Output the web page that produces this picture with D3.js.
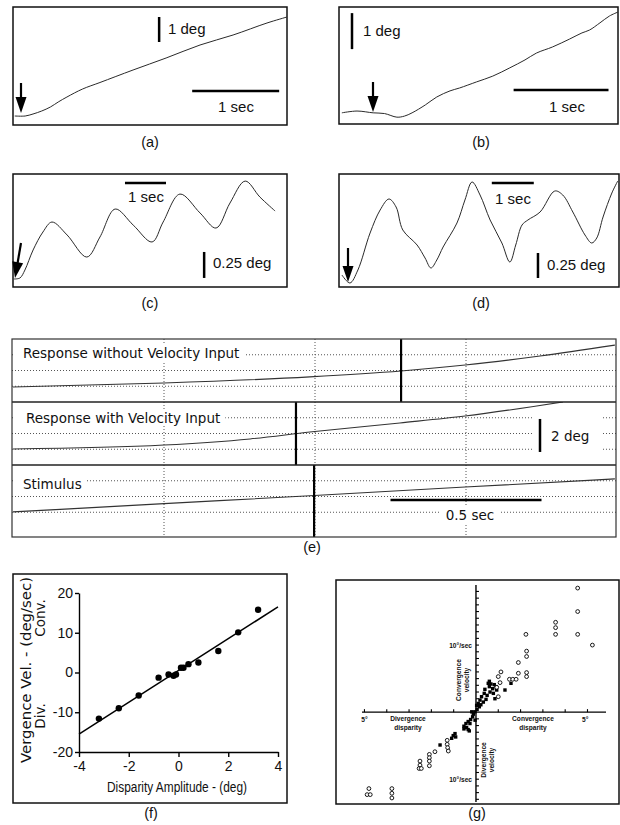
<!DOCTYPE html>
<html><head><meta charset="utf-8">
<script src="https://cdn.jsdelivr.net/npm/d3@7/dist/d3.min.js"></script>
<style>html,body{margin:0;padding:0;background:#fff;}svg{display:block;}</style>
</head><body>
<script>
// ================= DATA =================
// (a) eye position trace: time (s), position (deg)
const traceA_t   = [0.02,0.14,0.23,0.33,0.43,0.52,0.62,0.80,1.00,1.38,1.76,2.15,2.53,2.92,3.15];
const traceA_deg = [0.36,0.36,0.44,0.56,0.72,0.92,1.12,1.44,1.70,2.20,2.68,3.20,3.60,4.08,4.32];
// (b)
const traceB_t   = [0.03,0.19,0.36,0.48,0.61,0.69,0.77,0.91,1.03,1.17,1.27,1.45,1.62,1.80,1.96,2.08,2.25,2.43,2.56,2.64,2.75,2.85,2.94];
const traceB_deg = [0.31,0.36,0.31,0.29,0.19,0.22,0.31,0.53,0.75,0.92,1.00,1.17,1.33,1.56,1.78,1.97,2.14,2.36,2.53,2.61,2.81,3.00,3.11];
// (c)
const traceC_t   = [0.02,0.17,0.29,0.49,0.73,0.95,1.32,1.80,2.12,2.49,2.93,3.39,3.66,4.07,4.56,4.95,5.29,5.66,6.02,6.39];
const traceC_deg = [0.077,0.087,0.163,0.356,0.529,0.625,0.50,0.288,0.481,0.75,0.596,0.433,0.625,0.894,0.712,0.567,0.808,1.019,0.865,0.731];
// (d)
const traceD_t   = [0.07,0.26,0.45,0.74,0.98,1.19,1.36,1.52,1.86,2.05,2.19,2.33,2.48,2.81,3.00,3.17,3.36,3.60,3.88,4.07,4.21,4.36,4.50,4.79,5.14,5.33,5.57,5.86,6.02,6.14,6.29,6.50,6.64];
const traceD_deg = [0.12,0.04,0.17,0.54,0.77,0.88,0.80,0.57,0.42,0.29,0.19,0.27,0.40,0.64,0.87,1.05,0.92,0.67,0.44,0.25,0.42,0.62,0.67,0.75,0.96,0.92,0.75,0.52,0.44,0.49,0.70,0.94,1.06];
// (e) three rows: time (s), position (deg above row floor)
const rowLabels  = ["Response without Velocity Input","Response with Velocity Input","Stimulus"];
const e1_t   = [0,0.50,0.983,1.285,1.497,1.745,1.993];
const e1_deg = [0.91,1.15,1.52,1.88,2.24,2.79,3.45];
const e2_t   = [0,0.50,0.785,0.983,1.281,1.497,1.821];
const e2_deg = [0.97,1.21,1.58,2.00,2.55,2.97,3.82];
const e3_t   = [0,0.50,0.983,1.497,1.993];
const e3_deg = [1.52,2.02,2.50,3.03,3.52];
const eMarkers_t = [1.285,0.937,0.997];
const eGrid_t = [0.5,1.0,1.5];
// (f) disparity amplitude (deg) vs vergence velocity (deg/sec)
const fX = [-3.2,-2.4,-1.6,-0.8,-0.4,-0.2,-0.1,0.1,0.2,0.4,0.8,1.6,2.4,3.2];
const fY = [-11.6,-9.0,-5.8,-1.3,-0.5,-0.8,-0.5,1.2,1.2,2.1,2.5,5.4,10.1,15.8];
const fFitX = [-4,4];
const fFitY = [-15.5,16.5];
const fXTicks = [-4,-2,0,2,4];
const fYTicks = [-20,-10,0,10,20];
// (g) disparity (deg) vs velocity (deg/sec)
const gOpenX = [4.56,4.56,4.56,5.22,3.57,3.57,3.57,2.24,2.27,2.27,1.9,1.9,2.27,2.27,1.12,1.0,1.5,1.65,1.8,1.08,0.93,1.0,
  -1.29,-1.29,-1.27,-1.24,-1.84,-2.09,-2.09,-2.09,-2.09,-2.51,-2.51,-2.55,-2.45,-4.8,-4.88,-4.74,-3.77,-3.77,-3.77];
const gOpenY = [18.5,15.0,11.6,10.0,13.4,12.6,11.6,11.6,9.1,8.3,7.4,5.8,5.9,5.3,6.0,5.3,4.9,4.9,4.9,4.4,3.7,2.3,
  -4.2,-4.8,-5.3,-5.8,-5.9,-6.3,-6.8,-7.3,-8.0,-7.3,-7.9,-8.4,-8.4,-11.4,-12.3,-12.3,-11.4,-12.1,-12.8];
const gSqX = [0.55,0.67,0.82,0.6,0.75,0.9,0.63,0.37,0.5,0.78,0.93,0.85,0.45,0.25,0.18,0.1,0.03,0.33,0.15,1.57,1.3,0.4,0.22,0.05,0.6,
  -0.19,-0.05,-0.12,-0.15,-0.24,-0.35,-0.45,-0.54,-0.42,-0.54,-0.35,-0.27,-0.04,-0.3,-0.94,-1.02,-0.91,-1.09,-1.61];
const gSqY = [4.3,4.2,4.1,3.8,3.5,3.8,3.0,2.8,2.5,2.8,3.3,2.0,1.9,2.3,1.8,1.3,1.0,1.5,0.8,4.3,3.3,3.4,1.1,0.4,4.6,
  0.05,0.05,-0.3,-0.7,-1.1,-1.4,-1.7,-2.1,-2.3,-2.5,-2.6,-1.7,-1.2,-2.8,-3.2,-3.5,-3.7,-3.9,-4.9];

// ================= DRAWING =================
const svg = d3.select("body").append("svg").attr("width",620).attr("height",825);
const SANS = "'Liberation Sans', Arial, Helvetica, sans-serif";
const VERD = "'DejaVu Sans', Verdana, sans-serif";

function box(x,y,w,h,sw){
  svg.append("rect").attr("x",x).attr("y",y).attr("width",w).attr("height",h)
    .attr("fill","none").attr("stroke","#111").attr("stroke-width",sw||1.5);
}
function txt(x,y,s,size,anchor,family,extra){
  const t = svg.append("text").attr("x",x).attr("y",y).text(s)
    .attr("font-size",size).attr("font-family",family||SANS)
    .attr("text-anchor",anchor||"start").attr("fill","#111");
  if(extra) extra(t);
  return t;
}
function seg(x1,y1,x2,y2,sw,color,dash){
  const l = svg.append("line").attr("x1",x1).attr("y1",y1).attr("x2",x2).attr("y2",y2)
    .attr("stroke",color||"#000").attr("stroke-width",sw||1);
  if(dash) l.attr("stroke-dasharray",dash);
  return l;
}
function arrow(x1,y1,x2,y2){
  const dx=x2-x1, dy=y2-y1, L=Math.hypot(dx,dy), ux=dx/L, uy=dy/L;
  const hl=16, hw=5.5, bx=x2-ux*hl, by=y2-uy*hl;
  seg(x1,y1,bx+ux,by+uy,2.2);
  svg.append("path").attr("d",`M${x2},${y2}L${bx-uy*hw},${by+ux*hw}L${bx+uy*hw},${by-ux*hw}Z`).attr("fill","#000");
}
function trace(xs,ys,tArr,dArr,curve){
  svg.append("path").datum(tArr.map((t,i)=>[t,dArr[i]]))
    .attr("d",d3.line().x(d=>xs(d[0])).y(d=>ys(d[1])).curve(curve||d3.curveCatmullRom))
    .attr("fill","none").attr("stroke","#2a2a2a").attr("stroke-width",1);
}

// ---- (a) ----
{
  const x = d3.scaleLinear().domain([0,3.15]).range([13,287]);
  const y = d3.scaleLinear().domain([0,4.72]).range([125,7]);
  box(13,7,274,118);
  trace(x,y,traceA_t,traceA_deg);
  seg(x(2.06),y(1.36),x(3.06),y(1.36),2.5);
  seg(x(1.68),y(3.32),x(1.68),y(4.32),2.5);
  txt(168,34,"1 deg",15);
  txt(236,112,"1 sec",15,"middle");
  arrow(21,83,21,113);
  txt(150,147,"(a)",14.5,"middle");
}
// ---- (b) ----
{
  const x = d3.scaleLinear().domain([0,2.94]).range([339,618]);
  const y = d3.scaleLinear().domain([0,3.25]).range([124,7]);
  box(339,7,279,117);
  trace(x,y,traceB_t,traceB_deg);
  seg(x(1.84),y(0.944),x(2.84),y(0.944),2.5);
  seg(x(0.137),y(2.08),x(0.137),y(3.08),2.5);
  txt(363,36,"1 deg",15);
  txt(567,112,"1 sec",15,"middle");
  arrow(373,82,373,112);
  txt(481,147,"(b)",14.5,"middle");
}
// ---- (c) ----
{
  const x = d3.scaleLinear().domain([0,6.68]).range([13,287]);
  const y = d3.scaleLinear().domain([0,1.087]).range([287,174]);
  box(13,174,274,113);
  trace(x,y,traceC_t,traceC_deg);
  seg(x(2.73),y(1.0),x(3.73),y(1.0),2.5);
  seg(x(4.66),y(0.087),x(4.66),y(0.337),2.5);
  txt(146,202,"1 sec",15,"middle");
  txt(213,268,"0.25 deg",15);
  arrow(21,243,15,278);
  txt(150,308,"(c)",14.5,"middle");
}
// ---- (d) ----
{
  const x = d3.scaleLinear().domain([0,6.67]).range([339,619]);
  const y = d3.scaleLinear().domain([0,1.13]).range([287,174]);
  box(339,174,280,113);
  trace(x,y,traceD_t,traceD_deg);
  seg(x(3.64),y(1.04),x(4.64),y(1.04),2.5);
  seg(x(4.74),y(0.09),x(4.74),y(0.34),2.5);
  txt(513,204,"1 sec",15,"middle");
  txt(547,270,"0.25 deg",15);
  arrow(348,248,348,282);
  txt(481,308,"(d)",14.5,"middle");
}
// ---- (e) ----
{
  const L=12, R=616, T=339, B=537;
  const x = d3.scaleLinear().domain([0,2]).range([13,617]);
  const rows = [[339,402],[402,465],[465,537]];
  const pxPerDeg = 16.5;
  const data = [[e1_t,e1_deg],[e2_t,e2_deg],[e3_t,e3_deg]];
  const defs = svg.append("defs");
  defs.append("clipPath").attr("id","eclip").append("rect").attr("x",L).attr("y",T).attr("width",R-L).attr("height",B-T);
  // dotted horizontals
  rows.forEach(([top,bot],i)=>{
    const n = i<2 ? [1,2,3] : [1,2,3];
    n.forEach(k=>seg(L,top+15.75*k,R,top+15.75*k,1,"#555","1,2"));
  });
  // dotted verticals
  eGrid_t.forEach(t=>seg(x(t),T,x(t),B,1,"#555","1,2"));
  // traces
  rows.forEach(([top,bot],i)=>{
    const y = d3.scaleLinear().domain([0,(bot-top)/pxPerDeg]).range([bot,top]);
    const cid = "erow"+i;
    defs.append("clipPath").attr("id",cid).append("rect").attr("x",L).attr("y",top).attr("width",R-L).attr("height",bot-top);
    svg.append("path").datum(data[i][0].map((t,j)=>[t,data[i][1][j]]))
      .attr("d",d3.line().x(d=>x(d[0])).y(d=>y(d[1])).curve(d3.curveMonotoneX))
      .attr("fill","none").attr("stroke","#333").attr("stroke-width",1.1).attr("clip-path",`url(#${cid})`);
  });
  // labels with white background
  function bgText(xx,yy,s,anchor,padL,padR){
    const t = txt(xx,yy,s,13.5,anchor,VERD);
    const bb = t.node().getBBox();
    svg.insert("rect",()=>t.node()).attr("x",bb.x-(padL||3)).attr("y",bb.y).attr("width",bb.width+(padL||3)+(padR||4)).attr("height",bb.height).attr("fill","#fff");
    return t;
  }
  bgText(23,358,rowLabels[0],"start",10,5);
  bgText(26,423,rowLabels[1],"start",13,5);
  bgText(23,489,rowLabels[2],"start",10,5);
  // 2 deg scale
  svg.append("rect").attr("x",533).attr("y",414).attr("width",68).attr("height",40).attr("fill","#fff");
  const y2 = d3.scaleLinear().domain([0,63/pxPerDeg]).range([465,402]);
  seg(540,y2(0.79),540,y2(2.79),2.5);
  txt(551,441,"2 deg",13.5,"start",VERD);
  // 0.5 sec scale
  seg(x(1.25),500,x(1.75),500,2.5);
  bgText(470,520,"0.5 sec","middle",6,6);
  // black markers
  rows.forEach(([top,bot],i)=>seg(x(eMarkers_t[i]),top,x(eMarkers_t[i]),bot,2.2,"#000"));
  // separators + border
  seg(L,402,R,402,1.5,"#222");
  seg(L,465,R,465,1.5,"#222");
  svg.append("rect").attr("x",L).attr("y",T).attr("width",R-L).attr("height",B-T).attr("fill","none").attr("stroke","#333").attr("stroke-width",1.2);
  txt(312,552,"(e)",14.5,"middle");
}
// ---- (f) ----
{
  box(13,574,274,229);
  const x = d3.scaleLinear().domain([-4,4]).range([79,278]);
  const y = d3.scaleLinear().domain([-20,20]).range([752,593]);
  const ax = svg.append("g").attr("transform","translate(0,752)")
    .call(d3.axisBottom(x).tickValues(fXTicks).tickSize(5).tickSizeOuter(0).tickPadding(4).tickFormat(d3.format("d")));
  const ay = svg.append("g").attr("transform","translate(79,0)")
    .call(d3.axisLeft(y).tickValues(fYTicks).tickSize(4).tickSizeOuter(0).tickPadding(2).tickFormat(d3.format("d")));
  [ax,ay].forEach(a=>{
    a.selectAll("path").attr("stroke","#000").attr("stroke-width",1.4);
    a.selectAll("line").attr("stroke","#000").attr("stroke-width",1.4);
    a.selectAll("text").attr("font-family",SANS).attr("font-size",14).attr("fill","#111");
  });
  ax.selectAll("text").text(d=>d<0?"-"+Math.abs(d):d);
  ay.selectAll("text").text(d=>d<0?"-"+Math.abs(d):d);
  seg(x(fFitX[0]),y(fFitY[0]),x(fFitX[1]),y(fFitY[1]),1.5,"#000");
  svg.append("g").selectAll("circle").data(fX.map((v,i)=>[v,fY[i]])).join("circle")
    .attr("cx",d=>x(d[0])).attr("cy",d=>y(d[1])).attr("r",3.2).attr("fill","#000");
  txt(177,792,"Disparity Amplitude - (deg)",14,"middle","'Liberation Sans Narrow', 'Arial Narrow', sans-serif",
    t=>t.attr("textLength",140).attr("lengthAdjust","spacingAndGlyphs"));
  svg.append("text").attr("transform","translate(31,670) rotate(-90)").attr("text-anchor","middle")
    .attr("font-family",VERD).attr("font-size",13.5).attr("fill","#111")
    .attr("textLength",186).attr("lengthAdjust","spacingAndGlyphs").text("Vergence Vel. - (deg/sec)");
  svg.append("text").attr("transform","translate(45,618) rotate(-90)").attr("text-anchor","middle")
    .attr("font-family",VERD).attr("font-size",13.5).attr("fill","#111").text("Conv.");
  svg.append("text").attr("transform","translate(45,716) rotate(-90)").attr("text-anchor","middle")
    .attr("font-family",VERD).attr("font-size",13.5).attr("fill","#111").text("Div.");
  txt(151,818,"(f)",14.5,"middle");
}
// ---- (g) ----
{
  box(336,580,283,224);
  const x = d3.scaleLinear().domain([-5.11,5.83]).range([362,606]);
  const y = d3.scaleLinear().domain([-13.4,18.96]).range([802,585]);
  const x0 = x(0), y0 = y(0);
  seg(x(-5.11),y0,x(5.83),y0,1.4);
  seg(x0,y(18.96),x0,y(-13.4),1.4);
  d3.range(-5,6).filter(v=>v!==0).forEach(v=>seg(x(v),y0,x(v),y0-3,1.1));
  d3.range(-13,19).filter(v=>v!==0).forEach(v=>seg(x0,y(v),x0+3,y(v),1.1));
  const G = "'Liberation Sans', Arial, sans-serif";
  const gt = (xx,yy,s,anchor)=>txt(xx,yy,s,6.6,anchor,G,t=>t.attr("font-weight","bold"));
  gt(x(-5),722,"5°","middle");
  gt(x(4.9),722,"5°","middle");
  gt(x0-4,y(10)+2.5,"10°/sec","end");
  gt(x0-4,y(-10)+2.5,"10°/sec","end");
  gt(408,721,"Divergence","middle");
  gt(408,730,"disparity","middle");
  gt(533,721,"Convergence","middle");
  gt(533,730,"disparity","middle");
  const rot = (xx,yy,s)=>svg.append("text").attr("transform",`translate(${xx},${yy}) rotate(-90)`)
      .attr("text-anchor","middle").attr("font-family",G).attr("font-size",6.6).attr("font-weight","bold").attr("fill","#111").text(s);
  rot(461,680,"Convergence"); rot(469,680,"velocity");
  rot(486,760,"Divergence"); rot(494,760,"velocity");
  svg.append("g").selectAll("rect").data(gSqX.map((v,i)=>[v,gSqY[i]])).join("rect")
    .attr("x",d=>x(d[0])-1.7).attr("y",d=>y(d[1])-1.7).attr("width",3.4).attr("height",3.4).attr("fill","#000");
  svg.append("g").selectAll("circle").data(gOpenX.map((v,i)=>[v,gOpenY[i]])).join("circle")
    .attr("cx",d=>x(d[0])).attr("cy",d=>y(d[1])).attr("r",1.9).attr("fill","#fff").attr("stroke","#000").attr("stroke-width",0.9);
  txt(477,818,"(g)",14.5,"middle");
}
</script>
</body></html>
